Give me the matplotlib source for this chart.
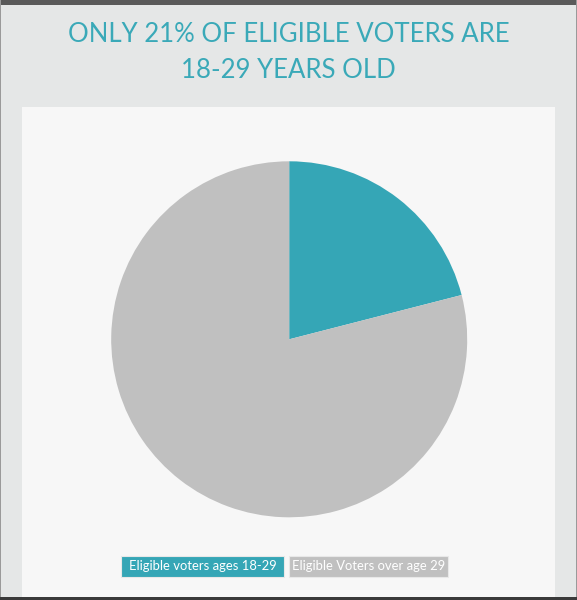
import matplotlib
matplotlib.use("Agg")
import matplotlib.pyplot as plt
from matplotlib.patches import Rectangle

title = "ONLY 21% OF ELIGIBLE VOTERS ARE\n18-29 YEARS OLD"
labels = ["Eligible voters ages 18-29", "Eligible Voters over age 29"]
shares = [21, 79]
colors = ["#35a6b6", "#c0c0c0"]

W, H = 577, 600


def px(x, y, w, h):
    # pixel box (top-left origin) -> figure fraction
    return [x / W, 1 - (y + h) / H, w / W, h / H]


def main():
    fig = plt.figure(figsize=(W / 100, H / 100), dpi=100)
    fig.patch.set_facecolor("#e5e7e7")

    # frame pieces
    bars = [
        ((0, 0, W, 5), "#5a5a5a"),
        ((0, 0, 1.2, H), "#9a9a9a"),
        ((W - 1.5, 0, 1.5, H), "#9a9a9a"),
        ((0, H - 3, W, 3), "#3a3a3a"),
        ((22, 107, 533, 493 - 3), "#f7f7f7"),
    ]
    for (x, y, w, h), c in bars:
        b = px(x, y, w, h)
        fig.add_artist(Rectangle((b[0], b[1]), b[2], b[3], transform=fig.transFigure,
                                 facecolor=c, edgecolor="none", zorder=-5))

    fig.text(0.5, 1 - 52.5 / H, title, ha="center", va="center", color="#3aa9b8",
             fontsize=18.5, linespacing=1.55,
             family=["Lato", "DejaVu Sans"])

    r = 178
    ax = fig.add_axes(px(289.2 - r, 339.3 - r, 2 * r, 2 * r))
    ax.pie(shares, colors=colors, startangle=90, counterclock=False, radius=1,
           wedgeprops={"linewidth": 0})
    ax.set_xlim(-1, 1)
    ax.set_ylim(-1, 1)
    ax.axis("off")

    boxes = [(121, 163), (289, 159)]
    for (x0, w), lab, c in zip(boxes, labels, colors):
        b = px(x0, 556, w, 21)
        fig.add_artist(Rectangle((b[0], b[1]), b[2], b[3], transform=fig.transFigure,
                                 facecolor=c, edgecolor="#e8e8e8", linewidth=0.8, zorder=2))
        fig.text(b[0] + b[2] / 2, b[1] + b[3] / 2, lab, ha="center", va="center",
                 color="white", fontsize=9.4, family=["Lato", "DejaVu Sans"], zorder=3)

    fig.savefig("out.png", dpi=100)


if __name__ == "__main__":
    main()
